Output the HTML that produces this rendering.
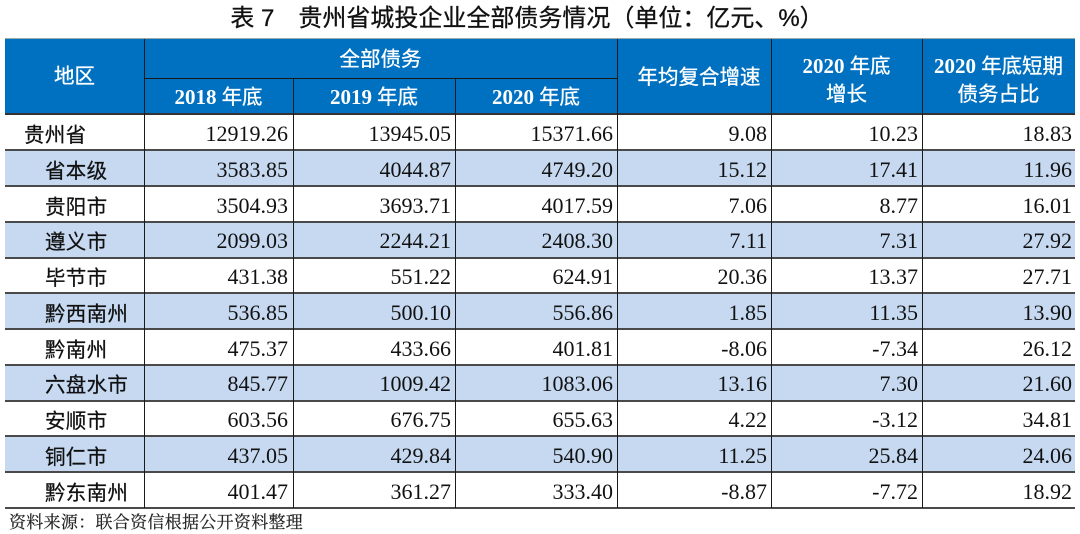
<!DOCTYPE html>
<html><head><meta charset="utf-8">
<style>
html,body{margin:0;padding:0;background:#fff;}
body{width:1080px;height:534px;position:relative;overflow:hidden;}
.abs{position:absolute;}
.title{left:0;width:1054px;top:3px;height:32px;line-height:32px;text-align:center;font-family:"Liberation Sans","Noto Sans CJK SC",sans-serif;font-size:24px;color:#111;white-space:pre;-webkit-text-stroke:0.3px #111;}
.hdr{left:5px;top:39px;width:1070px;height:75px;background:#0070C0;}
.ht{position:absolute;color:#fff;text-align:center;font-family:"Liberation Serif","Noto Sans CJK SC",sans-serif;font-size:20.5px;white-space:nowrap;-webkit-text-stroke:0.3px #fff;}
.ht b{font-family:"Liberation Serif",serif;font-weight:bold;font-size:21px;-webkit-text-stroke:0;}
.row{position:absolute;left:5px;width:1070px;height:35.75px;}
.row.s{background:#C6D9F1;}
.lab{position:absolute;top:4px;height:35.75px;line-height:35.75px;font-family:"Liberation Sans","Noto Sans CJK SC",sans-serif;font-size:20.5px;color:#111;white-space:nowrap;-webkit-text-stroke:0.25px #111;letter-spacing:0.3px;}
.num{position:absolute;top:2px;height:35.75px;line-height:35.75px;text-align:right;font-family:"Liberation Serif",serif;font-size:22px;color:#111;white-space:nowrap;}
.hl{position:absolute;left:5px;width:1070px;height:2px;background:#4a4a4a;}
.vl{position:absolute;width:1px;background:#1a1a1a;}
.src{left:9px;top:508px;font-family:"Liberation Serif","Noto Serif CJK SC",serif;font-size:17px;color:#222;white-space:nowrap;letter-spacing:0.3px;-webkit-text-stroke:0.2px #222;}
</style></head><body>
<div class="abs title">表 7　贵州省城投企业全部债务情况（单位：亿元、%）</div>
<div class="abs hdr"></div>
<div class="abs" style="left:5px;top:38px;width:1070px;height:1px;background:#9aa;"></div>
<!-- header texts -->
<div class="ht" style="left:5px;width:139px;top:63px;line-height:28px;">地区</div>
<div class="ht" style="left:144px;width:473px;top:46px;line-height:28px;">全部债务</div>
<div class="ht" style="left:144px;width:149px;top:83px;line-height:28px;"><b>2018</b> 年底</div>
<div class="ht" style="left:293px;width:162px;top:83px;line-height:28px;"><b>2019</b> 年底</div>
<div class="ht" style="left:455px;width:162px;top:83px;line-height:28px;"><b>2020</b> 年底</div>
<div class="ht" style="left:627px;width:144px;top:64px;line-height:28px;">年均复合增速</div>
<div class="ht" style="left:771px;width:151px;top:52px;line-height:28px;"><b>2020</b> 年底<br>增长</div>
<div class="ht" style="left:922px;width:153px;top:52px;line-height:28px;"><b>2020</b> 年底短期<br>债务占比</div>

<!-- data rows -->
<div class="row" style="top:114px;"><div class="lab" style="left:19px;">贵州省</div>
<div class="num" style="left:139px;width:144px;">12919.26</div><div class="num" style="left:288px;width:158px;">13945.05</div><div class="num" style="left:450px;width:158px;">15371.66</div><div class="num" style="left:612px;width:150px;">9.08</div><div class="num" style="left:766px;width:147px;">10.23</div><div class="num" style="left:917px;width:150px;">18.83</div></div>
<div class="row s" style="top:149.75px;"><div class="lab" style="left:40px;">省本级</div>
<div class="num" style="left:139px;width:144px;">3583.85</div><div class="num" style="left:288px;width:158px;">4044.87</div><div class="num" style="left:450px;width:158px;">4749.20</div><div class="num" style="left:612px;width:150px;">15.12</div><div class="num" style="left:766px;width:147px;">17.41</div><div class="num" style="left:917px;width:150px;">11.96</div></div>
<div class="row" style="top:185.5px;"><div class="lab" style="left:40px;">贵阳市</div>
<div class="num" style="left:139px;width:144px;">3504.93</div><div class="num" style="left:288px;width:158px;">3693.71</div><div class="num" style="left:450px;width:158px;">4017.59</div><div class="num" style="left:612px;width:150px;">7.06</div><div class="num" style="left:766px;width:147px;">8.77</div><div class="num" style="left:917px;width:150px;">16.01</div></div>
<div class="row s" style="top:221.25px;"><div class="lab" style="left:40px;">遵义市</div>
<div class="num" style="left:139px;width:144px;">2099.03</div><div class="num" style="left:288px;width:158px;">2244.21</div><div class="num" style="left:450px;width:158px;">2408.30</div><div class="num" style="left:612px;width:150px;">7.11</div><div class="num" style="left:766px;width:147px;">7.31</div><div class="num" style="left:917px;width:150px;">27.92</div></div>
<div class="row" style="top:257px;"><div class="lab" style="left:40px;">毕节市</div>
<div class="num" style="left:139px;width:144px;">431.38</div><div class="num" style="left:288px;width:158px;">551.22</div><div class="num" style="left:450px;width:158px;">624.91</div><div class="num" style="left:612px;width:150px;">20.36</div><div class="num" style="left:766px;width:147px;">13.37</div><div class="num" style="left:917px;width:150px;">27.71</div></div>
<div class="row s" style="top:292.75px;"><div class="lab" style="left:40px;">黔西南州</div>
<div class="num" style="left:139px;width:144px;">536.85</div><div class="num" style="left:288px;width:158px;">500.10</div><div class="num" style="left:450px;width:158px;">556.86</div><div class="num" style="left:612px;width:150px;">1.85</div><div class="num" style="left:766px;width:147px;">11.35</div><div class="num" style="left:917px;width:150px;">13.90</div></div>
<div class="row" style="top:328.5px;"><div class="lab" style="left:40px;">黔南州</div>
<div class="num" style="left:139px;width:144px;">475.37</div><div class="num" style="left:288px;width:158px;">433.66</div><div class="num" style="left:450px;width:158px;">401.81</div><div class="num" style="left:612px;width:150px;">-8.06</div><div class="num" style="left:766px;width:147px;">-7.34</div><div class="num" style="left:917px;width:150px;">26.12</div></div>
<div class="row s" style="top:364.25px;"><div class="lab" style="left:40px;">六盘水市</div>
<div class="num" style="left:139px;width:144px;">845.77</div><div class="num" style="left:288px;width:158px;">1009.42</div><div class="num" style="left:450px;width:158px;">1083.06</div><div class="num" style="left:612px;width:150px;">13.16</div><div class="num" style="left:766px;width:147px;">7.30</div><div class="num" style="left:917px;width:150px;">21.60</div></div>
<div class="row" style="top:400px;"><div class="lab" style="left:40px;">安顺市</div>
<div class="num" style="left:139px;width:144px;">603.56</div><div class="num" style="left:288px;width:158px;">676.75</div><div class="num" style="left:450px;width:158px;">655.63</div><div class="num" style="left:612px;width:150px;">4.22</div><div class="num" style="left:766px;width:147px;">-3.12</div><div class="num" style="left:917px;width:150px;">34.81</div></div>
<div class="row s" style="top:435.75px;"><div class="lab" style="left:40px;">铜仁市</div>
<div class="num" style="left:139px;width:144px;">437.05</div><div class="num" style="left:288px;width:158px;">429.84</div><div class="num" style="left:450px;width:158px;">540.90</div><div class="num" style="left:612px;width:150px;">11.25</div><div class="num" style="left:766px;width:147px;">25.84</div><div class="num" style="left:917px;width:150px;">24.06</div></div>
<div class="row" style="top:471.5px;"><div class="lab" style="left:40px;">黔东南州</div>
<div class="num" style="left:139px;width:144px;">401.47</div><div class="num" style="left:288px;width:158px;">361.27</div><div class="num" style="left:450px;width:158px;">333.40</div><div class="num" style="left:612px;width:150px;">-8.87</div><div class="num" style="left:766px;width:147px;">-7.72</div><div class="num" style="left:917px;width:150px;">18.92</div></div>

<!-- horizontal lines -->
<div class="hl" style="top:113px;background:#333;"></div>
<div class="hl" style="top:149px;"></div>
<div class="hl" style="top:185px;"></div>
<div class="hl" style="top:220.5px;"></div>
<div class="hl" style="top:256.5px;"></div>
<div class="hl" style="top:292px;"></div>
<div class="hl" style="top:328px;"></div>
<div class="hl" style="top:363.5px;"></div>
<div class="hl" style="top:399.5px;"></div>
<div class="hl" style="top:435px;"></div>
<div class="hl" style="top:471px;"></div>
<div class="hl" style="top:506.5px;"></div>
<!-- header inner line -->
<div class="abs" style="left:144px;top:78px;width:473px;height:1px;background:#1a1a1a;"></div>
<!-- vertical lines -->
<div class="vl" style="left:143.5px;top:39px;height:469px;"></div>
<div class="vl" style="left:292.5px;top:78px;height:430px;"></div>
<div class="vl" style="left:454.5px;top:78px;height:430px;"></div>
<div class="vl" style="left:617px;top:39px;height:469px;"></div>
<div class="vl" style="left:770.5px;top:39px;height:469px;"></div>
<div class="vl" style="left:922px;top:39px;height:469px;"></div>

<div class="abs src">资料来源：联合资信根据公开资料整理</div>
</body></html>
